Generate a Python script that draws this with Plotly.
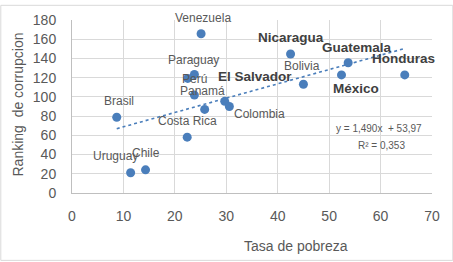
import plotly.graph_objects as go

# ---- data ----
countries = ["Venezuela", "Paraguay", "", "Perú", "Panamá", "Costa Rica", "Brasil",
             "Uruguay", "Chile", "El Salvador", "Colombia", "Nicaragua", "Bolivia",
             "Guatemala", "México", "Honduras"]
pobreza = [25.1, 23.8, 22.5, 23.8, 25.8, 22.4, 8.7, 11.4, 14.3, 29.7, 30.6, 42.5, 45.0, 53.7, 52.4, 64.7]
corrupcion = [165.7, 123.3, 119.2, 101.9, 87.0, 58.1, 78.8, 21.1, 24.1, 95.4, 90.0, 144.6, 113.1, 135.5, 122.9, 122.9]
bold_countries = ["El Salvador", "Nicaragua", "Guatemala", "México", "Honduras"]
slope = 1.490
intercept = 53.97
r2 = 0.353

# label offsets (px), style only
label_shift = {
    "Venezuela": (2, 16), "Paraguay": (-1, 15), "Perú": (0, 16), "Panamá": (-2, 18),
    "Costa Rica": (0, 16), "Brasil": (2, 16), "Uruguay": (-15, 17), "Chile": (0, 17),
    "El Salvador": (30, 25), "Colombia": (30, -7), "Nicaragua": (0, 17),
    "Bolivia": (-1, 18), "Guatemala": (9, 15), "México": (15, -14), "Honduras": (-1, 16),
}

FONT = "Liberation Sans, Arial, sans-serif"
GRAY = "#595959"

fig = go.Figure()

xmin, xmax = min(pobreza), max(pobreza)
fig.add_trace(go.Scatter(
    x=[xmin, xmax], y=[slope * xmin + intercept, slope * xmax + intercept],
    mode="lines", line=dict(color="#4a7ebb", width=1.6, dash="dot"),
    hoverinfo="skip", showlegend=False))

fig.add_trace(go.Scatter(
    x=pobreza, y=corrupcion, mode="markers",
    marker=dict(color="#4a7ebb", size=9), showlegend=False))

annotations = []
for c, x, y in zip(countries, pobreza, corrupcion):
    if not c:
        continue
    dx, dy = label_shift[c]
    bold = c in bold_countries
    annotations.append(dict(
        x=x, y=y, xref="x", yref="y", text=f"<b>{c}</b>" if bold else c,
        showarrow=False, xanchor="center", yanchor="middle", xshift=dx, yshift=dy,
        font=dict(family=FONT, size=13.5 if bold else 12, color="#404040" if bold else GRAY)))

eq_text = f"y = {slope:.3f}x  + {intercept:.2f}".replace(".", ",")
r2_text = f"R² = {r2:.3f}".replace(".", ",")
annotations.append(dict(xref="paper", yref="paper", x=(379 - 71.7) / 360, y=(192.7 - 127) / 176.7,
                        text=eq_text, showarrow=False, xanchor="center", yanchor="middle",
                        font=dict(family=FONT, size=10, color=GRAY)))
annotations.append(dict(xref="paper", yref="paper", x=(381 - 71.7) / 360, y=(192.7 - 144) / 176.7,
                        text=r2_text, showarrow=False, xanchor="center", yanchor="middle",
                        font=dict(family=FONT, size=10, color=GRAY)))
annotations.append(dict(xref="paper", yref="paper", x=(296 - 71.7) / 360, y=(192.7 - 246.5) / 176.7,
                        text="Tasa de pobreza", showarrow=False, xanchor="center", yanchor="middle",
                        font=dict(family=FONT, size=14, color=GRAY)))
annotations.append(dict(xref="paper", yref="paper", x=(18 - 71.7) / 360, y=(192.7 - 102) / 176.7,
                        text="Ranking  de corrupcion", showarrow=False, xanchor="center", yanchor="middle",
                        textangle=-90, font=dict(family=FONT, size=14, color=GRAY)))

fig.update_layout(
    width=453, height=262,
    margin=dict(l=72, r=21, t=16, b=69),
    paper_bgcolor="white", plot_bgcolor="white",
    annotations=annotations,
    font=dict(family=FONT, color=GRAY),
    shapes=[dict(type="rect", xref="paper", yref="paper",
                 x0=-71.2 / 360, x1=1 + 20.8 / 360, y0=-68.8 / 176.7, y1=1 + 15 / 176.7,
                 line=dict(color="#d9d9d9", width=1))],
)
fig.update_xaxes(range=[0, 70], dtick=10, showgrid=True, gridcolor="#d9d9d9", gridwidth=1,
                 showline=True, linecolor="#bfbfbf", zeroline=False,
                 ticks="", ticklabelstandoff=10,
                 tickfont=dict(family=FONT, size=14, color=GRAY))
fig.update_yaxes(range=[0, 180], dtick=20, showgrid=True, gridcolor="#d9d9d9", gridwidth=1,
                 showline=True, linecolor="#bfbfbf", zeroline=False,
                 ticks="", ticklabelstandoff=12,
                 tickfont=dict(family=FONT, size=14, color=GRAY))

fig.write_html("out.html")
